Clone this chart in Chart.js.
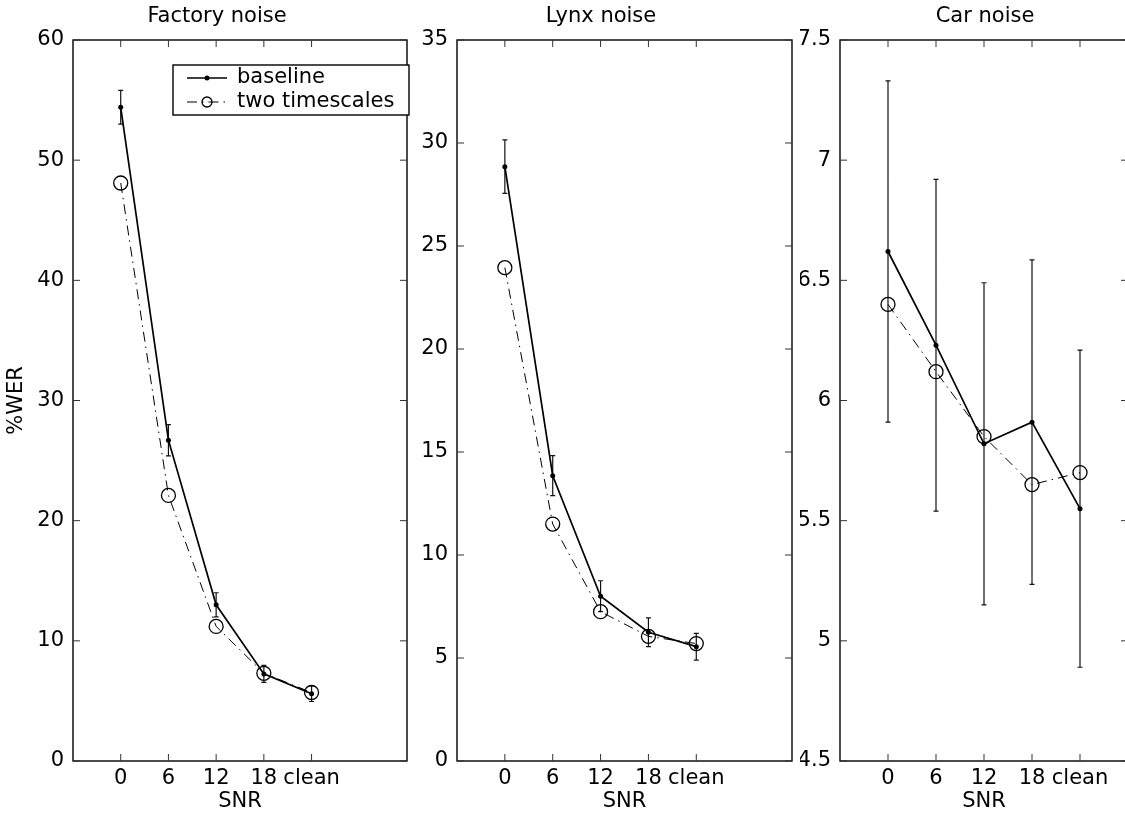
<!DOCTYPE html>
<html lang="en">
<head>
  <meta charset="UTF-8">
  <title>%WER vs SNR</title>
  <script src="https://cdn.jsdelivr.net/npm/chart.js"></script>
  <style>
    html, body {
      margin: 0;
      padding: 0;
      background: #fff;
      width: 1125px;
      height: 814px;
      overflow: hidden;
      position: relative;
    }
    canvas { position: absolute; top: 0; }
  </style>
</head>
<body>
  <canvas id="factoryChart" width="420" height="814" style="left:0px"></canvas>
  <canvas id="lynxChart" width="400" height="814" style="left:410px"></canvas>
  <canvas id="carChart" width="340" height="814" style="left:800px"></canvas>

  <script>
    // SNR conditions (x axis)
    const snrLabels = ['0', '6', '12', '18', 'clean'];

    // Factory noise
    const factoryBaseline = [54.4, 26.7, 13.0, 7.25, 5.6];
    const factoryBaselineErr = [1.4, 1.3, 1.0, 0.7, 0.65];
    const factoryTwoTimescales = [48.1, 22.1, 11.2, 7.3, 5.7];

    // Lynx noise
    const lynxBaseline = [28.85, 13.85, 8.0, 6.25, 5.55];
    const lynxBaselineErr = [1.3, 0.97, 0.75, 0.7, 0.65];
    const lynxTwoTimescales = [23.95, 11.5, 7.25, 6.05, 5.7];

    // Car noise
    const carBaseline = [6.62, 6.23, 5.82, 5.91, 5.55];
    const carBaselineErr = [0.71, 0.69, 0.67, 0.675, 0.66];
    const carTwoTimescales = [6.40, 6.12, 5.85, 5.65, 5.70];

    const FONT = "'DejaVu Sans', sans-serif";
    const FONT_SIZE = 21;
    Chart.defaults.font.family = FONT;
    Chart.defaults.font.size = FONT_SIZE;
    Chart.defaults.color = '#000';

    // MATLAB-style box with inward ticks on all four sides
    const boxTicks = {
      id: 'boxTicks',
      beforeDatasetsDraw(chart) {
        const { ctx, chartArea: a, scales: { x, y } } = chart;
        const len = 7;
        ctx.save();
        ctx.strokeStyle = '#000';
        ctx.lineWidth = 1.4;
        ctx.strokeRect(a.left, a.top, a.right - a.left, a.bottom - a.top);
        ctx.beginPath();
        x.ticks.forEach((t, i) => {
          const px = x.getPixelForTick(i);
          ctx.moveTo(px, a.bottom); ctx.lineTo(px, a.bottom - len);
          ctx.moveTo(px, a.top); ctx.lineTo(px, a.top + len);
        });
        y.ticks.forEach((t, i) => {
          const py = y.getPixelForTick(i);
          ctx.moveTo(a.left, py); ctx.lineTo(a.left + len, py);
          ctx.moveTo(a.right, py); ctx.lineTo(a.right - len, py);
        });
        ctx.lineWidth = 1;
        ctx.strokeStyle = '#333';
        ctx.stroke();
        ctx.restore();
      }
    };

    // vertical error bars on the baseline series
    const errorBars = {
      id: 'errorBars',
      beforeDatasetsDraw(chart, args, opts) {
        if (!opts.values) return;
        const { ctx, scales: { x, y } } = chart;
        const cap = 2.5;
        ctx.save();
        ctx.strokeStyle = '#111';
        ctx.lineWidth = 1.2;
        ctx.beginPath();
        opts.values.forEach((v, i) => {
          const px = x.getPixelForValue(i);
          const hi = y.getPixelForValue(v + opts.errors[i]);
          const lo = y.getPixelForValue(v - opts.errors[i]);
          ctx.moveTo(px, hi); ctx.lineTo(px, lo);
          ctx.moveTo(px - cap, hi); ctx.lineTo(px + cap, hi);
          ctx.moveTo(px - cap, lo); ctx.lineTo(px + cap, lo);
        });
        ctx.stroke();
        ctx.restore();
      }
    };

    // panel title, centred like the original figure
    const panelTitle = {
      id: 'panelTitle',
      afterDraw(chart, args, opts) {
        const { ctx } = chart;
        ctx.save();
        ctx.font = FONT_SIZE + 'px ' + FONT;
        ctx.fillStyle = '#000';
        ctx.textAlign = 'center';
        ctx.textBaseline = 'middle';
        ctx.fillText(opts.text, opts.x, 17);
        ctx.restore();
      }
    };

    // boxed legend inside the first panel
    const boxLegend = {
      id: 'boxLegend',
      afterDatasetsDraw(chart, args, opts) {
        if (!opts.display) return;
        const { ctx, chartArea: a } = chart;
        const bx = a.right - 234, by = a.top + 25, bw = 236, bh = 50;
        ctx.save();
        ctx.fillStyle = '#fff';
        ctx.fillRect(bx, by, bw, bh);
        ctx.strokeStyle = '#000';
        ctx.lineWidth = 1.4;
        ctx.strokeRect(bx, by, bw, bh);
        chart.data.datasets.forEach((ds, i) => {
          const ry = by + 13 + i * 24;
          ctx.strokeStyle = ds.borderColor;
          ctx.lineWidth = ds.borderWidth;
          ctx.setLineDash(ds.borderDash || []);
          ctx.beginPath();
          ctx.moveTo(bx + 14, ry); ctx.lineTo(bx + 54, ry);
          ctx.stroke();
          ctx.setLineDash([]);
          ctx.beginPath();
          const r = Math.min(ds.pointRadius, 5);
          ctx.arc(bx + 34, ry, r, 0, Math.PI * 2);
          if (ds.pointBackgroundColor !== 'rgba(0,0,0,0)') {
            ctx.fillStyle = ds.pointBackgroundColor;
            ctx.fill();
          } else {
            ctx.lineWidth = ds.pointBorderWidth;
            ctx.stroke();
          }
          ctx.fillStyle = '#000';
          ctx.font = FONT_SIZE + 'px ' + FONT;
          ctx.textAlign = 'left';
          ctx.textBaseline = 'middle';
          ctx.fillText(ds.label, bx + 64, ry);
        });
        ctx.restore();
      }
    };

    function makeChart(id, cfg) {
      return new Chart(document.getElementById(id), {
        type: 'line',
        data: {
          datasets: [
            {
              label: 'baseline',
              data: cfg.baseline.map((v, i) => ({ x: i, y: v })),
              borderColor: '#000',
              borderWidth: 1.7,
              pointRadius: 2.5,
              pointBackgroundColor: '#000',
              pointBorderColor: '#000',
              pointBorderWidth: 0,
              tension: 0
            },
            {
              label: 'two timescales',
              data: cfg.twoTs.map((v, i) => ({ x: i, y: v })),
              borderColor: '#000',
              borderWidth: 1,
              borderDash: [10, 5, 1.5, 5],
              pointRadius: 7,
              pointBackgroundColor: 'rgba(0,0,0,0)',
              pointBorderColor: '#000',
              pointBorderWidth: 1.3,
              tension: 0
            }
          ]
        },
        options: {
          responsive: false,
          animation: false,
          layout: { padding: { top: 40, right: cfg.padRight, left: 0, bottom: 0 } },
          plugins: {
            legend: { display: false },
            tooltip: { enabled: false },
            errorBars: { values: cfg.baseline, errors: cfg.baselineErr },
            panelTitle: { text: cfg.title, x: cfg.titleX },
            boxLegend: { display: cfg.legend }
          },
          scales: {
            x: {
              type: 'linear',
              min: -1,
              max: cfg.xMax,
              afterBuildTicks: s => { s.ticks = snrLabels.map((l, i) => ({ value: i })); },
              afterFit: s => { s.height = 53; },
              ticks: {
                callback: v => snrLabels[v],
                autoSkip: false,
                maxRotation: 0,
                padding: 5
              },
              grid: { display: false, drawTicks: false },
              border: { display: false },
              title: { display: true, text: 'SNR', padding: { top: 0, bottom: 0 } }
            },
            y: {
              min: cfg.yMin,
              max: cfg.yMax,
              afterFit: s => { s.width = cfg.yWidth; },
              ticks: {
                stepSize: cfg.yStep,
                padding: 9,
                callback: v => String(Number(v.toFixed(2)))
              },
              grid: { display: false, drawTicks: false },
              border: { display: false },
              title: { display: !!cfg.yTitle, text: cfg.yTitle || '', padding: { top: 4, bottom: 0 } }
            }
          }
        },
        plugins: [boxTicks, errorBars, panelTitle, boxLegend]
      });
    }

    makeChart('factoryChart', {
      title: 'Factory noise', titleX: 217,
      baseline: factoryBaseline, baselineErr: factoryBaselineErr, twoTs: factoryTwoTimescales,
      yMin: 0, yMax: 60, yStep: 10, xMax: 6,
      yWidth: 73, padRight: 13, yTitle: '%WER', legend: true
    });

    makeChart('lynxChart', {
      title: 'Lynx noise', titleX: 191,
      baseline: lynxBaseline, baselineErr: lynxBaselineErr, twoTs: lynxTwoTimescales,
      yMin: 0, yMax: 35, yStep: 5, xMax: 6,
      yWidth: 47, padRight: 18, legend: false
    });

    makeChart('carChart', {
      title: 'Car noise', titleX: 185,
      baseline: carBaseline, baselineErr: carBaselineErr, twoTs: carTwoTimescales,
      yMin: 4.5, yMax: 7.5, yStep: 0.5, xMax: 5,
      yWidth: 40, padRight: 12, legend: false
    });
  </script>
</body>
</html>
